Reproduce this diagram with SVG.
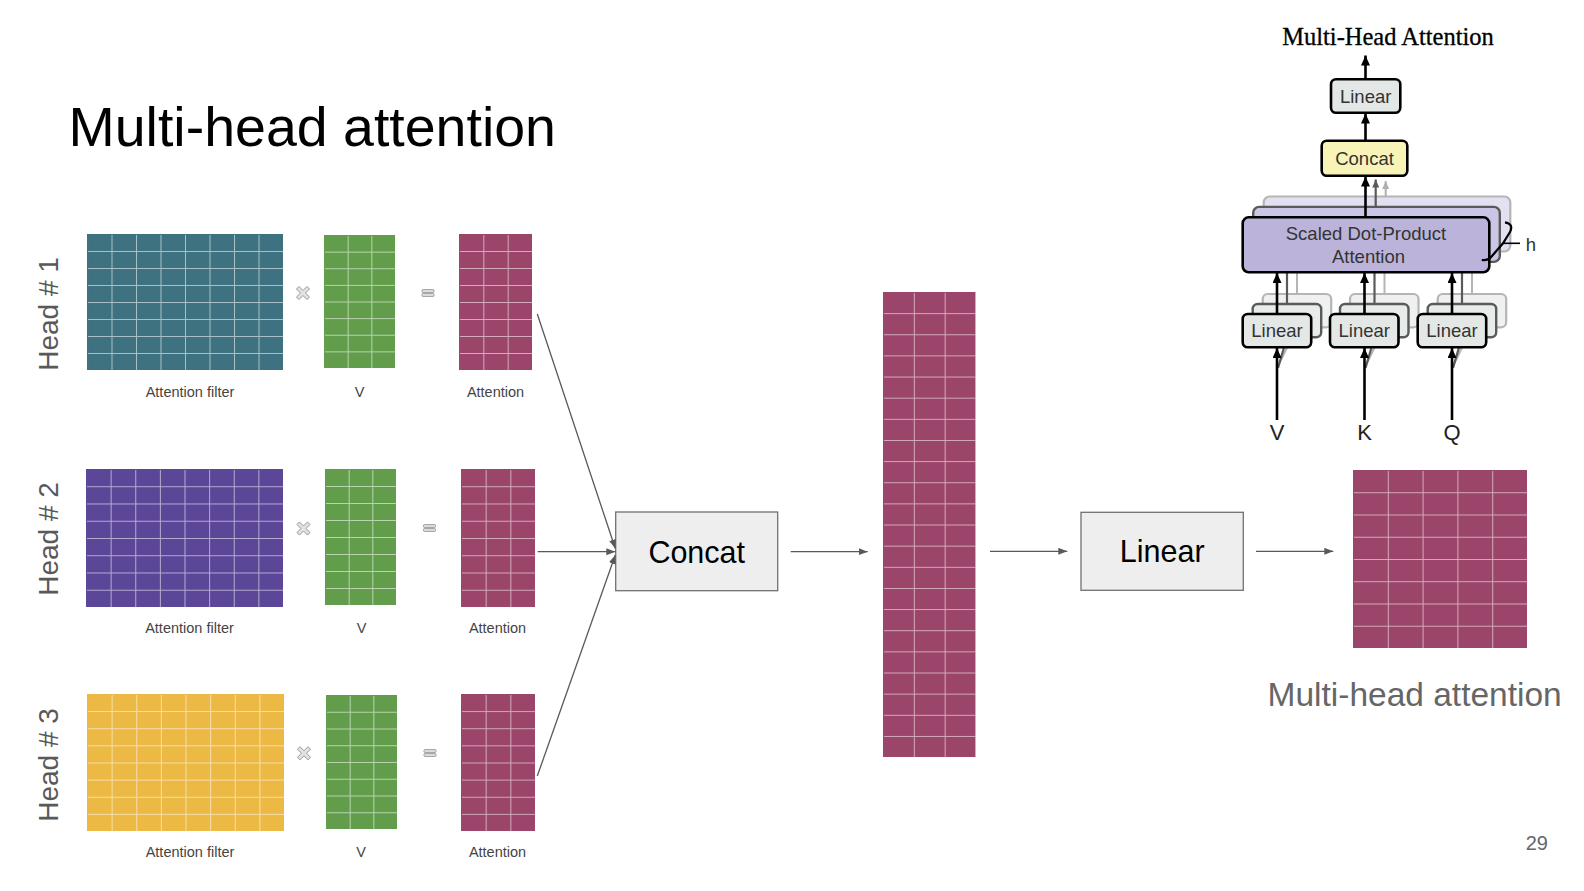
<svg xmlns="http://www.w3.org/2000/svg" width="1584" height="891" viewBox="0 0 1584 891">
<style>
.sans{font-family:"Liberation Sans",Arial,sans-serif}
.serif{font-family:"Liberation Serif","Times New Roman",serif}
.lbl{font-family:"Liberation Sans",Arial,sans-serif;font-size:14.5px;fill:#444;text-anchor:middle}
.head{font-family:"Liberation Sans",Arial,sans-serif;font-size:28px;fill:#595959;text-anchor:middle}
.teal{fill:#3f7280}.purple{fill:#5c4698}.yellow{fill:#ecb944}.green{fill:#629d4c}.maroon{fill:#9b456a}
pattern path{stroke:#fff;stroke-opacity:.55;stroke-width:1;fill:none}
.op{fill:#e2e2e2;stroke:#8a8a8a;stroke-width:.8}
.flow{stroke:#595959;stroke-width:1.3;fill:none}
.mbox{fill:#eeeeee;stroke:#707070;stroke-width:1.3}
.mtxt{font-family:"Liberation Sans",Arial,sans-serif;font-size:30.5px;fill:#000;text-anchor:middle}
.tb{stroke:#000;stroke-width:2.6}
.tb1{stroke:#5a5a5a;stroke-width:2.4}
.tb2{stroke:#b5b5b5;stroke-width:2.2}
.ttxt{font-family:"Liberation Sans",Arial,sans-serif;font-size:18.5px;fill:#333;text-anchor:middle}
.blk{stroke:#000;stroke-width:2.6;fill:none}
</style>
<defs>
<marker id="ah" markerUnits="userSpaceOnUse" markerWidth="10" markerHeight="8" refX="9" refY="3.5" orient="auto"><path d="M0,0 L9,3.5 L0,7 z" fill="#595959"/></marker>
<marker id="bh" markerUnits="userSpaceOnUse" markerWidth="10" markerHeight="10" refX="10" refY="4.5" orient="auto"><path d="M0,0 L10,4.5 L0,9 z" fill="#000"/></marker>
<marker id="gh1" markerUnits="userSpaceOnUse" markerWidth="9" markerHeight="8" refX="8" refY="3.5" orient="auto"><path d="M0,0 L8,3.5 L0,7 z" fill="#5a5a5a"/></marker>
<marker id="gh2" markerUnits="userSpaceOnUse" markerWidth="9" markerHeight="8" refX="8" refY="3.5" orient="auto"><path d="M0,0 L8,3.5 L0,7 z" fill="#b0b0b0"/></marker>
<pattern id="p1f" patternUnits="userSpaceOnUse" x="87" y="234" width="24.5" height="17"><path d="M0 0.5H24.5M0.5 0V17"/></pattern>
<pattern id="p1v" patternUnits="userSpaceOnUse" x="324" y="235" width="23.67" height="16.625"><path d="M0 0.5H23.67M0.5 0V16.625"/></pattern>
<pattern id="p1a" patternUnits="userSpaceOnUse" x="459" y="234" width="24.33" height="17"><path d="M0 0.5H24.33M0.5 0V17"/></pattern>
<pattern id="p2f" patternUnits="userSpaceOnUse" x="86" y="469" width="24.625" height="17.25"><path d="M0 0.5H24.625M0.5 0V17.25"/></pattern>
<pattern id="p2v" patternUnits="userSpaceOnUse" x="325" y="469" width="23.67" height="17"><path d="M0 0.5H23.67M0.5 0V17"/></pattern>
<pattern id="p2a" patternUnits="userSpaceOnUse" x="461" y="469" width="24.67" height="17.25"><path d="M0 0.5H24.67M0.5 0V17.25"/></pattern>
<pattern id="p3f" patternUnits="userSpaceOnUse" x="87" y="694" width="24.625" height="17.125"><path d="M0 0.5H24.625M0.5 0V17.125"/></pattern>
<pattern id="p3v" patternUnits="userSpaceOnUse" x="326" y="695" width="23.67" height="16.75"><path d="M0 0.5H23.67M0.5 0V16.75"/></pattern>
<pattern id="p3a" patternUnits="userSpaceOnUse" x="461" y="694" width="24.67" height="17.125"><path d="M0 0.5H24.67M0.5 0V17.125"/></pattern>
<pattern id="pt" patternUnits="userSpaceOnUse" x="883" y="292" width="30.83" height="21.14"><path d="M0 0.5H30.83M0.5 0V21.14"/></pattern>
<pattern id="pf" patternUnits="userSpaceOnUse" x="1353" y="470" width="34.8" height="22.25"><path d="M0 0.5H34.8M0.5 0V22.25"/></pattern>
<polygon id="mul" class="op" points="-1.8,-7.5 1.8,-7.5 1.8,-1.8 7.5,-1.8 7.5,1.8 1.8,1.8 1.8,7.5 -1.8,7.5 -1.8,1.8 -7.5,1.8 -7.5,-1.8 -1.8,-1.8" transform="rotate(45)"/>
<g id="eq"><rect class="op" x="-6" y="-3.4" width="12" height="2.8" rx="0.8"/><rect class="op" x="-6" y="0.6" width="12" height="2.8" rx="0.8"/></g>
</defs>

<rect width="1584" height="891" fill="#fff"/>

<text class="sans" x="68.5" y="146" font-size="55.5" fill="#000">Multi-head attention</text>

<!-- Head labels -->
<text class="head" transform="translate(58,314) rotate(-90)">Head # 1</text>
<text class="head" transform="translate(58,539) rotate(-90)">Head # 2</text>
<text class="head" transform="translate(58,765) rotate(-90)">Head # 3</text>

<!-- Head 1 -->
<g id="head1-filter"><rect class="teal" x="87" y="234" width="196" height="136"/><rect x="88" y="235" width="195" height="135" fill="url(#p1f)"/><text class="lbl" x="190" y="397">Attention filter</text></g>
<use href="#mul" x="303" y="293"/>
<g id="head1-v"><rect class="green" x="324" y="235" width="71" height="133"/><rect x="325" y="236" width="70" height="132" fill="url(#p1v)"/><text class="lbl" x="359.5" y="397">V</text></g>
<use href="#eq" x="428" y="293"/>
<g id="head1-attention"><rect class="maroon" x="459" y="234" width="73" height="136"/><rect x="460" y="235" width="72" height="135" fill="url(#p1a)"/><text class="lbl" x="495.5" y="397">Attention</text></g>

<!-- Head 2 -->
<g id="head2-filter"><rect class="purple" x="86" y="469" width="197" height="138"/><rect x="87" y="470" width="196" height="137" fill="url(#p2f)"/><text class="lbl" x="189.5" y="633">Attention filter</text></g>
<use href="#mul" x="303.5" y="528.5"/>
<g id="head2-v"><rect class="green" x="325" y="469" width="71" height="136"/><rect x="326" y="470" width="70" height="135" fill="url(#p2v)"/><text class="lbl" x="361.5" y="633">V</text></g>
<use href="#eq" x="429.5" y="528"/>
<g id="head2-attention"><rect class="maroon" x="461" y="469" width="74" height="138"/><rect x="462" y="470" width="73" height="137" fill="url(#p2a)"/><text class="lbl" x="497.5" y="633">Attention</text></g>

<!-- Head 3 -->
<g id="head3-filter"><rect class="yellow" x="87" y="694" width="197" height="137"/><rect x="88" y="695" width="196" height="136" fill="url(#p3f)"/><text class="lbl" x="190" y="857">Attention filter</text></g>
<use href="#mul" x="304" y="753.3"/>
<g id="head3-v"><rect class="green" x="326" y="695" width="71" height="134"/><rect x="327" y="696" width="70" height="133" fill="url(#p3v)"/><text class="lbl" x="361" y="857">V</text></g>
<use href="#eq" x="430" y="753"/>
<g id="head3-attention"><rect class="maroon" x="461" y="694" width="74" height="137"/><rect x="462" y="695" width="73" height="136" fill="url(#p3a)"/><text class="lbl" x="497.5" y="857">Attention</text></g>

<!-- Main flow nodes -->
<g id="concat"><rect class="mbox" x="615.7" y="512" width="162" height="78.7"/><text class="mtxt" x="696.7" y="562.5">Concat</text></g>
<g id="concat-matrix"><rect class="maroon" x="883" y="292" width="92.5" height="465"/><rect x="884" y="293" width="91.5" height="464" fill="url(#pt)"/></g>
<g id="linear"><rect class="mbox" x="1081" y="512.3" width="162.3" height="78"/><text class="mtxt" x="1162.2" y="562">Linear</text></g>
<g id="output-matrix"><rect class="maroon" x="1353" y="470" width="174" height="178"/><rect x="1354" y="471" width="173" height="177" fill="url(#pf)"/></g>
<text class="sans" x="1267.5" y="706" font-size="33.5" fill="#666">Multi-head attention</text>
<text class="sans" x="1548" y="850" font-size="20" fill="#666" text-anchor="end">29</text>

<!-- Main connectors -->
<g id="connectors">
<path class="flow" d="M537.3,314 L615.3,548.5" marker-end="url(#ah)"/>
<path class="flow" d="M537.7,551.7 H615.3" marker-end="url(#ah)"/>
<path class="flow" d="M537.3,776 L615.3,555" marker-end="url(#ah)"/>
<path class="flow" d="M790.7,551.7 H867.7" marker-end="url(#ah)"/>
<path class="flow" d="M990,551.3 H1067.3" marker-end="url(#ah)"/>
<path class="flow" d="M1256,551.3 H1333.3" marker-end="url(#ah)"/>
</g>

<!-- Transformer multi-head attention figure -->
<text class="serif" x="1388" y="45" font-size="24.5" fill="#000" text-anchor="middle" stroke="#000" stroke-width="0.3">Multi-Head Attention</text>

<g id="tr-back">
<rect class="tb2" x="1263.7" y="196.5" width="246.6" height="55" rx="6" fill="#e3e0f1"/>
<rect class="tb2" x="1262.7" y="294" width="68.5" height="33.3" rx="5" fill="#eef1f0"/>
<rect class="tb2" x="1350" y="294" width="68.5" height="33.3" rx="5" fill="#eef1f0"/>
<rect class="tb2" x="1437.7" y="294" width="68.5" height="33.3" rx="5" fill="#eef1f0"/>
<path d="M1297,294 V251.5 M1384.5,294 V251.5 M1472,294 V251.5 M1278,366 L1297,327.3 M1365.5,366 L1384.5,327.3 M1453,366 L1472,327.3" stroke="#b5b5b5" stroke-width="2" fill="none"/>
<path d="M1385.7,196.5 V181" stroke="#b0b0b0" stroke-width="2" fill="none" marker-end="url(#gh2)"/>
</g>
<g id="tr-mid">
<rect class="tb1" x="1253.2" y="206.9" width="246.6" height="55" rx="6" fill="#cbc6e5"/>
<rect class="tb1" x="1252.7" y="304" width="68.5" height="33.3" rx="5" fill="#e7ecea"/>
<rect class="tb1" x="1340" y="304" width="68.5" height="33.3" rx="5" fill="#e7ecea"/>
<rect class="tb1" x="1427.7" y="304" width="68.5" height="33.3" rx="5" fill="#e7ecea"/>
<path d="M1287,304 V262 M1374.5,304 V262 M1462,304 V262 M1278,368 L1287,337.3 M1365.5,368 L1374.5,337.3 M1453,368 L1462,337.3" stroke="#5a5a5a" stroke-width="2.2" fill="none"/>
<path d="M1375.7,206.9 V179.5" stroke="#5a5a5a" stroke-width="2.2" fill="none" marker-end="url(#gh1)"/>
</g>
<g id="sdpa"><rect class="tb" x="1242.7" y="217.3" width="246.6" height="55" rx="6" fill="#bbb3da"/><text class="ttxt" x="1366" y="240">Scaled Dot-Product</text><text class="ttxt" x="1368.5" y="262.5">Attention</text></g>
<g id="h-brace"><path d="M1505,222.3 Q1514,224 1510,232 L1503,243.3 L1492,256 Q1488,261 1481.7,260" stroke="#000" stroke-width="2.2" fill="none"/><path d="M1503,243.3 H1520" stroke="#000" stroke-width="1.6"/><text class="ttxt" x="1531" y="250.5" fill="#222">h</text></g>
<g id="linear-v"><rect class="tb" x="1242.7" y="314" width="68.5" height="33.3" rx="5" fill="#e3e8e6"/><text class="ttxt" x="1277" y="337">Linear</text></g>
<g id="linear-k"><rect class="tb" x="1330" y="314" width="68.5" height="33.3" rx="5" fill="#e3e8e6"/><text class="ttxt" x="1364.3" y="337">Linear</text></g>
<g id="linear-q"><rect class="tb" x="1417.7" y="314" width="68.5" height="33.3" rx="5" fill="#e3e8e6"/><text class="ttxt" x="1452" y="337">Linear</text></g>
<g id="concat-small"><rect class="tb" x="1321.7" y="140.7" width="85.6" height="35" rx="5" fill="#f8f3b7"/><text class="ttxt" x="1364.5" y="164.5">Concat</text></g>
<g id="linear-small"><rect class="tb" x="1331" y="79.3" width="69.3" height="33.4" rx="5" fill="#e3e8e6"/><text class="ttxt" x="1365.7" y="102.5">Linear</text></g>
<text class="sans" x="1277" y="440" font-size="22" fill="#222" text-anchor="middle">V</text>
<text class="sans" x="1364.5" y="440" font-size="22" fill="#222" text-anchor="middle">K</text>
<text class="sans" x="1452" y="440" font-size="22" fill="#222" text-anchor="middle">Q</text>
<g id="tr-connectors">
<path class="blk" d="M1277,420 V348" marker-end="url(#bh)"/>
<path class="blk" d="M1364.5,420 V348" marker-end="url(#bh)"/>
<path class="blk" d="M1452,420 V348" marker-end="url(#bh)"/>
<path class="blk" d="M1277,314 V273" marker-end="url(#bh)"/>
<path class="blk" d="M1364.5,314 V273" marker-end="url(#bh)"/>
<path class="blk" d="M1452,314 V273" marker-end="url(#bh)"/>
<path class="blk" d="M1365.5,217.3 V176.5" marker-end="url(#bh)"/>
<path class="blk" d="M1365.5,140.7 V113.5" marker-end="url(#bh)"/>
<path class="blk" d="M1365.5,79.3 V55.5" marker-end="url(#bh)"/>
</g>
</svg>
